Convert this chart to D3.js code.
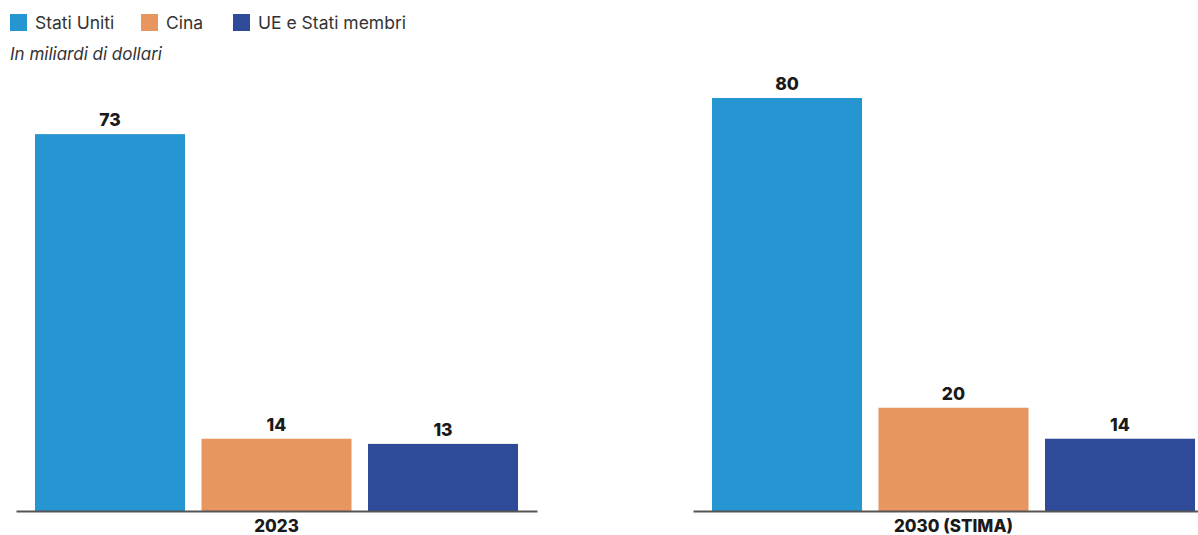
<!DOCTYPE html>
<html>
<head>
<meta charset="utf-8">
<script src="https://cdn.jsdelivr.net/npm/d3@7"></script>
<style>
  body { margin: 0; background: #fff; }
  svg { display: block; font-family: Inter, "Noto Sans", sans-serif; }
</style>
</head>
<body>
<div id="chart"></div>
<script>
// data
const series = ["Stati Uniti", "Cina", "UE e Stati membri"];
const colors = ["#2596d1", "#e89660", "#2e4a99"];
const periods = ["2023", "2030 (STIMA)"];
const values2023 = [73, 14, 13];
const values2030 = [80, 20, 14];
const subtitle = "In miliardi di dollari";

(function () {
  const W = 1198, H = 535;
  const baseline = 511;

  const svg = d3.select("#chart").append("svg")
    .attr("width", W)
    .attr("height", H);

  const y = d3.scaleLinear().domain([0, 80]).range([baseline, 98]);

  const color = d3.scaleOrdinal().domain(series).range(colors);

  // legend
  const legendX = [10, 141, 233];
  series.forEach((s, i) => {
    const g = svg.append("g").attr("transform", `translate(${legendX[i]},14)`);
    g.append("rect").attr("width", 17).attr("height", 17).attr("fill", color(s));
    g.append("text")
      .attr("x", 25).attr("y", 15)
      .attr("fill", "#333")
      .attr("font-size", "17.5px")
      .text(s);
  });

  svg.append("text")
    .attr("x", 10).attr("y", 60)
    .attr("fill", "#333")
    .attr("font-size", "17px")
    .attr("font-style", "italic")
    .text(subtitle);

  // panels
  const panelRanges = [[16, 537], [693, 1214]];
  const panelValues = [values2023, values2030];

  periods.forEach((p, pi) => {
    const x = d3.scaleBand()
      .domain(series)
      .range(panelRanges[pi])
      .paddingInner(0.099)
      .paddingOuter(0.114);

    const g = svg.append("g");
    const rows = series.map((s, i) => ({ s, v: panelValues[pi][i] }));

    g.selectAll("rect")
      .data(rows)
      .enter()
      .append("rect")
      .attr("x", (d) => x(d.s))
      .attr("y", (d) => y(d.v))
      .attr("width", x.bandwidth())
      .attr("height", (d) => baseline - y(d.v))
      .attr("fill", (d) => color(d.s));

    g.selectAll(".val")
      .data(rows)
      .enter()
      .append("text")
      .attr("class", "val")
      .attr("x", (d) => x(d.s) + x.bandwidth() / 2)
      .attr("y", (d) => y(d.v) - 8)
      .attr("text-anchor", "middle")
      .attr("font-size", "17.5px")
      .attr("font-weight", "800")
      .attr("fill", "#1a1a1a")
      .text((d) => d.v);

    // axis line
    const axis = g.append("g")
      .attr("transform", `translate(0,${baseline})`)
      .call(d3.axisBottom(x).tickSize(0).tickFormat(""));
    axis.select(".domain").attr("stroke", "#555").attr("stroke-width", 2);

    const [r0, r1] = panelRanges[pi];
    g.append("text")
      .attr("x", (r0 + r1) / 2)
      .attr("y", 532)
      .attr("text-anchor", "middle")
      .attr("font-size", "17px")
      .attr("font-weight", "800")
      .attr("fill", "#1a1a1a")
      .text(p);
  });
})();
</script>
</body>
</html>
